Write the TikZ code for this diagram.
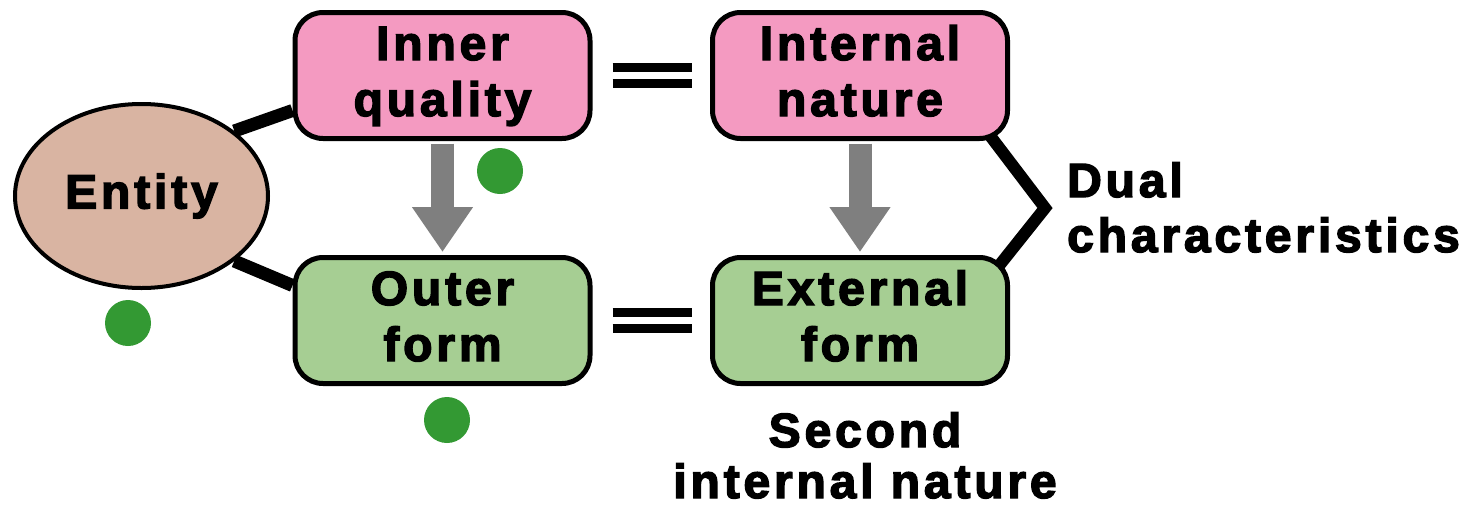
\documentclass[tikz,border=0pt]{standalone}
\usepackage{fontspec}
\newfontfamily\lab[UprightFont={* Bold},LetterSpace=8,FakeBold=3]{Liberation Sans}
\usetikzlibrary{arrows.meta,calc,shapes.geometric}
\definecolor{pinkf}{RGB}{244,154,193}
\definecolor{greenf}{RGB}{166,206,147}
\definecolor{tanf}{RGB}{217,180,162}
\definecolor{dotg}{RGB}{51,153,51}
\definecolor{arrg}{RGB}{127,127,127}
\newcommand\twol[2]{\rule{0pt}{35pt}#1\\#2\rule[-10pt]{0pt}{10pt}}
\pgfdeclarelayer{bg}
\pgfsetlayers{bg,main}
\tikzset{
  box/.style={draw=black, line width=5pt, rounded corners=28pt, minimum width=295pt,
    minimum height=126pt, inner sep=0pt, align=center,
    font={\lab\fontsize{48}{56}\selectfont}},
  pinkbox/.style={box, fill=pinkf},
  greenbox/.style={box, fill=greenf},
  entity/.style={ellipse, draw=black, line width=4pt, fill=tanf, minimum width=253pt,
    minimum height=184pt, inner sep=0pt, font={\lab\fontsize{48}{56}\selectfont}},
  conn/.style={line width=13pt},
  eqbar/.style={line width=9pt, shorten <=20pt, shorten >=18pt},
  garrow/.style={arrg, line width=23pt, -{Triangle[width=58pt,length=45pt]}, shorten <=2.5pt, shorten >=3pt},
  bracket/.style={line width=12pt, line join=miter},
  gdot/.style={circle, fill=dotg, minimum size=46pt, inner sep=0pt},
  lbl/.style={inner sep=0pt, font={\lab\fontsize{48}{55}\selectfont}}
}
\begin{document}
\begin{tikzpicture}[x=1pt,y=-1pt]
\useasboundingbox (0,0) rectangle (1472,509);
\node[pinkbox] (iq) at (442.5,75.5) {\twol{Inner}{quality}};
\node[pinkbox] (in) at (860,75.5) {\twol{Internal}{nature}};
\node[greenbox] (of) at (442.5,320.5) {\twol{Outer}{form}};
\node[greenbox] (ef) at (860,320.5) {\twol{External}{form}};
\node[entity] (ent) at (141.5,196) {Entity};
\coordinate (bv) at (1045,208);
\begin{pgfonlayer}{bg}
\draw[conn] (ent.35) -- ($(iq.west)+(0,35)$);
\draw[conn] (ent.-35) -- ($(of.west)+(0,-35)$);
\draw[bracket] ($(in.south east)+(-22,-8)$) -- (bv) -- ($(ef.north east)+(-12,12)$);
\end{pgfonlayer}
% equals signs
\draw[eqbar] ($(iq.east)+(0,-8)$) -- ($(in.west)+(0,-8)$);
\draw[eqbar] ($(iq.east)+(0,8)$) -- ($(in.west)+(0,8)$);
\draw[eqbar] ($(of.east)+(0,-8)$) -- ($(ef.west)+(0,-8)$);
\draw[eqbar] ($(of.east)+(0,8)$) -- ($(ef.west)+(0,8)$);
% gray arrows
\draw[garrow] (iq.south) -- (of.north);
\draw[garrow] (in.south) -- (ef.north);
% labels
\node[lbl, anchor=west, align=left] (dual) at (1067,212) {\twol{Dual}{characteristics}};
\node[lbl, align=center, font={\lab\fontsize{48}{51}\selectfont}] (sec) at (865,460) {\twol{Second}{internal nature}};
% green dots
\node[gdot] (d1) at (500,171) {};
\node[gdot] (d2) at (128,323) {};
\node[gdot] (d3) at (447,420) {};
\end{tikzpicture}
\end{document}
